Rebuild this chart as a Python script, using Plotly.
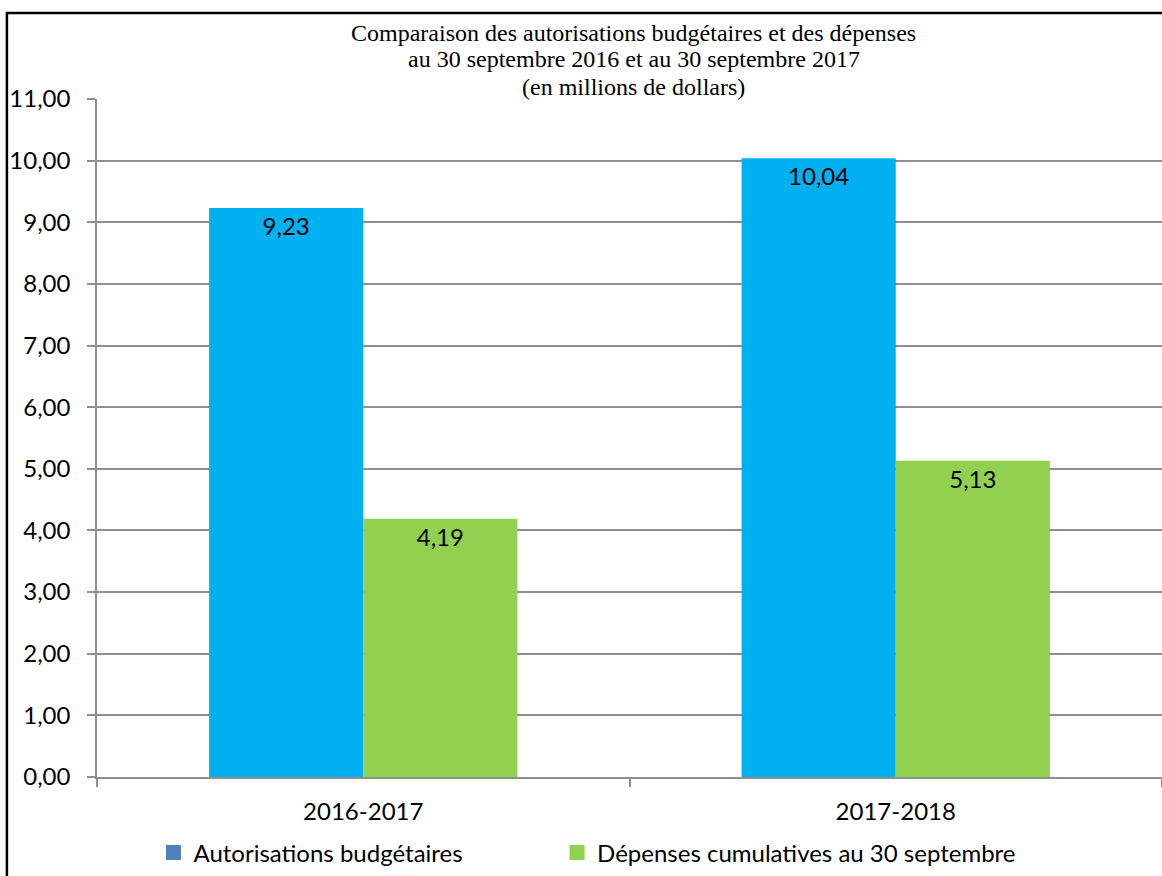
import plotly.graph_objects as go

categories = ["2016-2017", "2017-2018"]
autorisations = [9.23, 10.04]
depenses = [4.19, 5.13]
series_names = ["Autorisations budgétaires", "Dépenses cumulatives au 30 septembre"]
title_lines = [
    "Comparaison des autorisations budgétaires et des dépenses",
    "au 30 septembre 2016 et au 30 septembre 2017",
    "(en millions de dollars)",
]
y_ticks = [0, 1, 2, 3, 4, 5, 6, 7, 8, 9, 10, 11]

BLUE = "#00B0F0"
GREEN = "#92D050"
LEGEND_BLUE = "#4F81BD"
GRID = "#8F8F8F"
SANS = "Lato, 'Liberation Sans', sans-serif"
SERIF = "'Liberation Serif', 'Times New Roman', serif"

fig = go.Figure()
fig.add_trace(go.Bar(
    x=categories, y=autorisations, name=series_names[0], marker_color=BLUE,
    marker_line_width=0, showlegend=False,
    texttemplate="%{y:.2f}", textposition="inside", insidetextanchor="end",
    textfont=dict(family=SANS, size=24, color="black"),
))
fig.add_trace(go.Bar(
    x=categories, y=depenses, name=series_names[1], marker_color=GREEN,
    marker_line_width=0, showlegend=False,
    texttemplate="%{y:.2f}", textposition="inside", insidetextanchor="end",
    textfont=dict(family=SANS, size=24, color="black"),
))
# legend-only entries
fig.add_trace(go.Scatter(
    x=[None], y=[None], mode="markers", name=series_names[0],
    marker=dict(symbol="square", size=15, color=LEGEND_BLUE), legend="legend",
))
fig.add_trace(go.Scatter(
    x=[None], y=[None], mode="markers", name=series_names[1],
    marker=dict(symbol="square", size=15, color=GREEN), legend="legend2",
))

annotations = []
for line, ypos in zip(title_lines, [1.0973, 1.0583, 1.0177]):
    annotations.append(dict(
        text=line, xref="paper", yref="paper", x=0.504, y=ypos,
        xanchor="center", yanchor="middle", showarrow=False,
        font=dict(family=SERIF, size=24, color="black"),
    ))

fig.update_layout(
    width=1162, height=876,
    margin=dict(l=97, r=0, t=99, b=99),
    paper_bgcolor="white", plot_bgcolor="white",
    separators=", ",
    barmode="group", bargap=0.421, bargroupgap=0,
    font=dict(family=SANS, size=24, color="black"),
    annotations=annotations,
    showlegend=True,
    legend=dict(orientation="h", x=0.053, y=-0.112, xanchor="left", yanchor="middle",
                font=dict(family=SANS, size=24, color="black"), bgcolor="rgba(0,0,0,0)"),
    legend2=dict(orientation="h", x=0.432, y=-0.112, xanchor="left", yanchor="middle",
                 font=dict(family=SANS, size=24, color="black"), bgcolor="rgba(0,0,0,0)"),
    shapes=[dict(type="rect", xref="paper", yref="paper",
                 x0=-0.0846, x1=1.01, y0=1.1268, y1=-0.16,
                 line=dict(color="black", width=2.5), fillcolor="rgba(0,0,0,0)", layer="above")],
)
fig.update_yaxes(
    range=[0, 11], tickvals=y_ticks, tickformat=".2f",
    showgrid=True, gridcolor=GRID, gridwidth=1.5,
    showline=True, linecolor=GRID, linewidth=1.5,
    ticks="outside", ticklen=8, tickcolor=GRID, tickwidth=1.5,
    ticklabelstandoff=12, zeroline=False,
    tickfont=dict(family=SANS, size=24, color="black"),
)
fig.update_xaxes(
    type="category", showgrid=False,
    showline=True, linecolor=GRID, linewidth=1.5,
    ticks="outside", ticklen=8, tickcolor=GRID, tickwidth=1.5, tickson="boundaries",
    ticklabelstandoff=12,
    tickfont=dict(family=SANS, size=24, color="black"),
)

fig.write_html("out.html")
